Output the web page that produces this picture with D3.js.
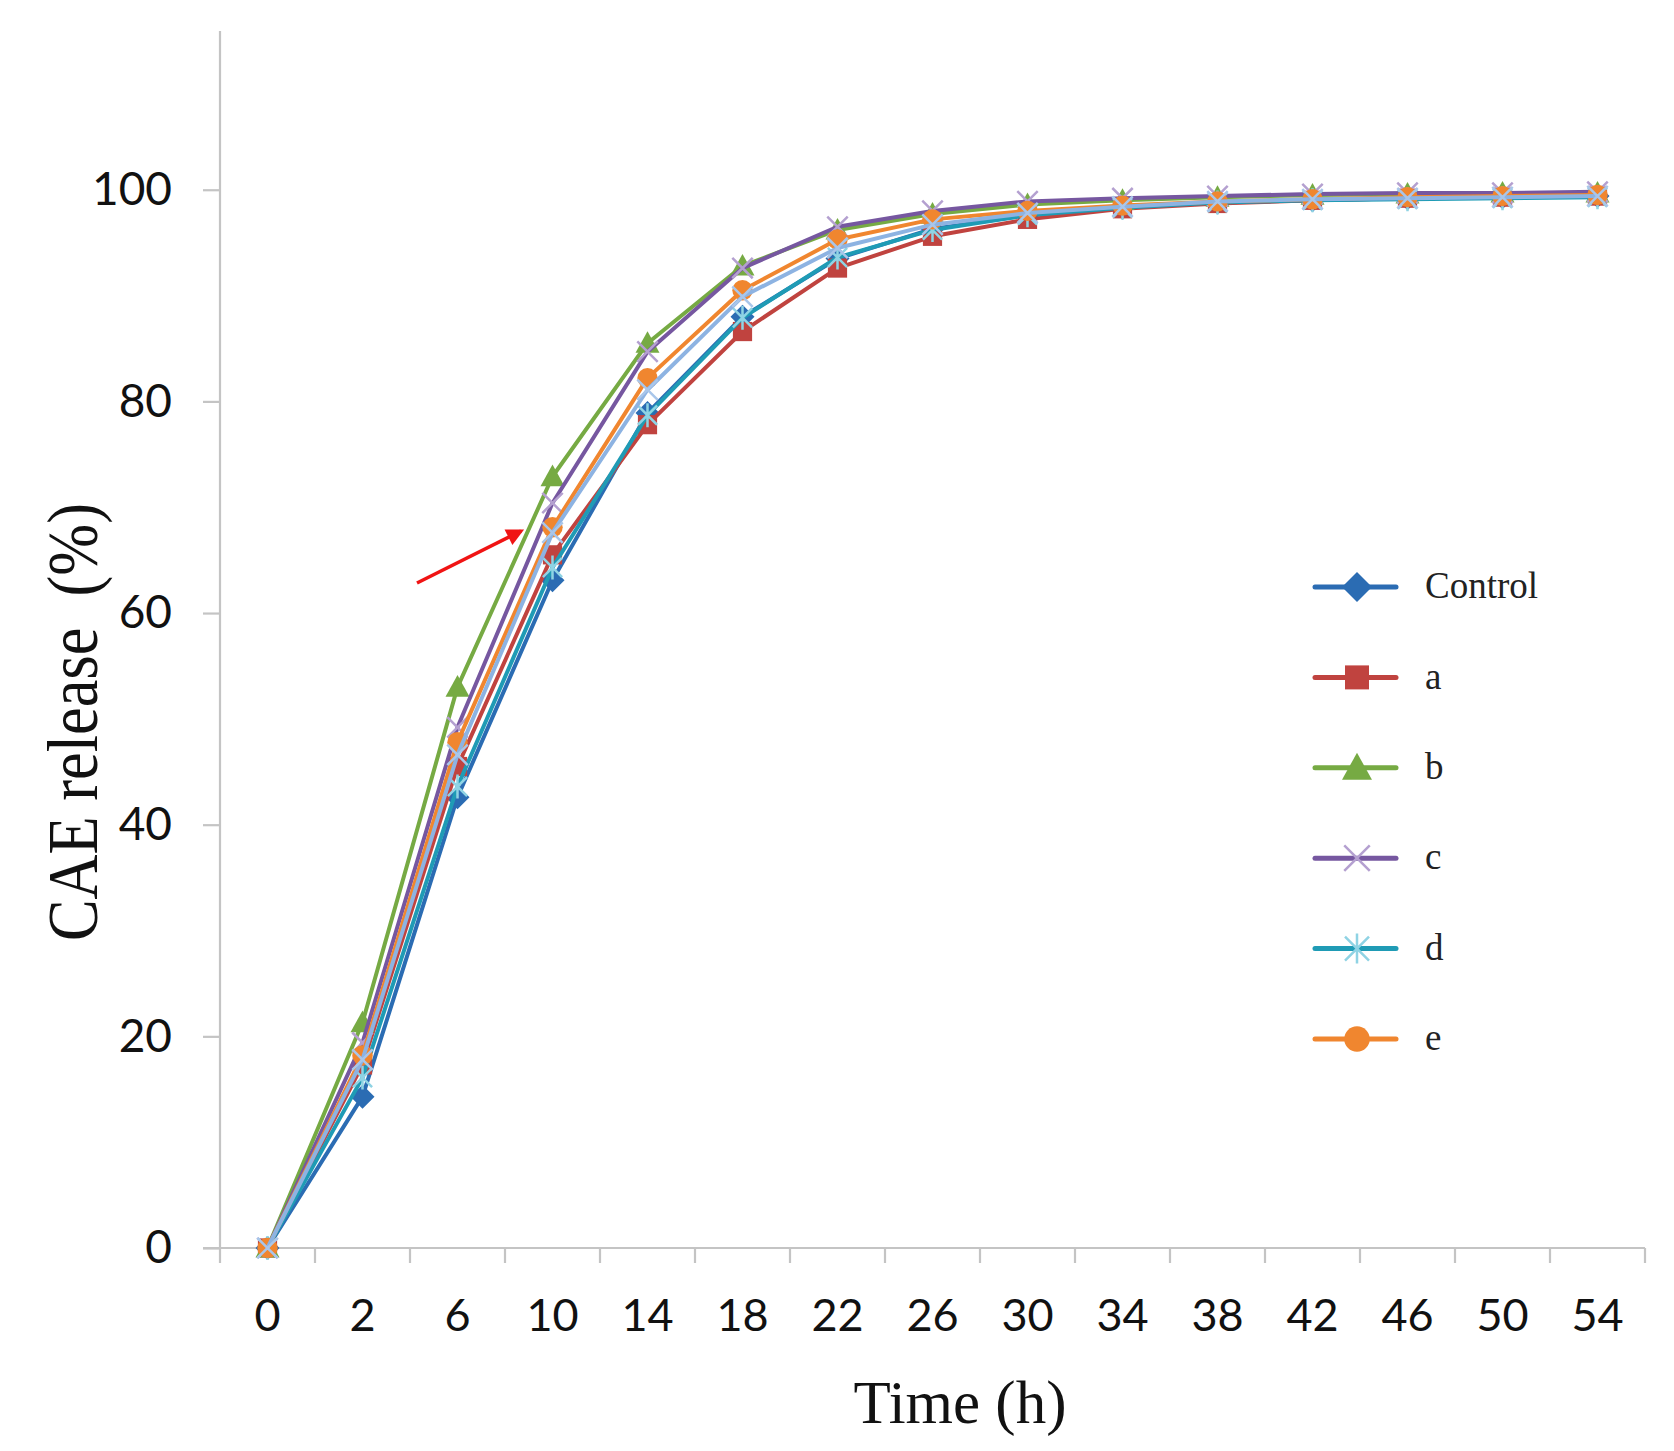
<!DOCTYPE html>
<html>
<head>
  <meta charset="utf-8">
  <title>CAE release</title>
  <style>
    body { margin: 0; background: #fff; }
    svg { display: block; }
  </style>
</head>
<body>

  <script src="https://cdn.jsdelivr.net/npm/d3@7"></script>
  <script type="text/javascript">

  // sampling times (h), shown as categories
  var times = ['0', '2', '6', '10', '14', '18', '22', '26', '30', '34', '38', '42', '46', '50', '54'];

  var control = [0, 14.3, 42.6, 63.1, 78.9, 88.0, 93.5, 96.3, 97.6, 98.3, 98.8, 99.0, 99.2, 99.3, 99.4];
  var serA    = [0, 17.3, 45.5, 65.5, 77.8, 86.6, 92.6, 95.6, 97.2, 98.2, 98.7, 99.0, 99.2, 99.3, 99.4];
  var serB    = [0, 21.3, 53.0, 72.9, 85.5, 92.8, 96.2, 97.7, 98.6, 99.0, 99.3, 99.5, 99.6, 99.7, 99.7];
  var serC    = [0, 19.4, 49.2, 70.4, 84.7, 92.6, 96.5, 98.0, 98.9, 99.2, 99.4, 99.6, 99.7, 99.7, 99.8];
  var serD    = [0, 16.1, 43.6, 64.3, 78.7, 87.9, 93.6, 96.2, 97.6, 98.3, 98.8, 99.0, 99.1, 99.2, 99.3];
  var serE    = [0, 18.2, 47.8, 68.1, 82.2, 90.5, 95.3, 97.2, 98.0, 98.5, 98.9, 99.1, 99.3, 99.4, 99.5];
  // extra light blue series drawn in the plot, not listed in the legend
  var serF    = [0, 17.8, 46.6, 67.6, 81.1, 89.9, 94.5, 96.7, 97.8, 98.4, 98.9, 99.1, 99.2, 99.3, 99.4];

  var yTicks = [0, 20, 40, 60, 80, 100];

  var series = [
    { name: 'Control', values: control, color: '#2b6cb3', mark: 'diamond', mcolor: '#2b6cb3', legend: true },
    { name: 'a',       values: serA,    color: '#c0433f', mark: 'square',  mcolor: '#c0433f', legend: true },
    { name: 'b',       values: serB,    color: '#76aa43', mark: 'triangle', mcolor: '#76aa43', legend: true },
    { name: 'c',       values: serC,    color: '#7657a0', mark: 'cross',   mcolor: '#b4a0d0', legend: true },
    { name: 'd',       values: serD,    color: '#1f9bb5', mark: 'star',    mcolor: '#8fd3e4', legend: true },
    { name: 'e',       values: serE,    color: '#f0862f', mark: 'circle',  mcolor: '#f0862f', legend: true },
    { name: 'f',       values: serF,    color: '#8db3e2', mark: 'cross',   mcolor: '#a9c6ea', legend: false }
  ];

  var W = 1674, H = 1451,
      pL = 220, pR = 1645, pT = 31, pB = 1248;

  var svg = d3.select('body').append('svg')
      .attr('width', W)
      .attr('height', H);

  var x = d3.scaleBand().domain(times).range([pL, pR]).padding(0),
      y = d3.scaleLinear().domain([0, 115]).range([pB, pT]),
      cx = function(i){ return x(times[i]) + x.bandwidth() / 2; };

  var axisColor = '#c4c4c4';

  // y axis
  var yAxis = svg.append('g')
      .attr('transform', 'translate(' + pL + ',0)')
      .call(d3.axisLeft(y).tickValues(yTicks).tickSize(17).tickPadding(31));
  yAxis.select('.domain').attr('stroke', axisColor).attr('stroke-width', 2.2)
      .attr('d', 'M0,' + (pB + 15) + 'V' + pT);
  yAxis.selectAll('.tick line').attr('stroke', axisColor).attr('stroke-width', 2.2);
  yAxis.selectAll('.tick text')
      .attr('font-family', 'Lato, "Open Sans", sans-serif')
      .attr('font-size', 46)
      .attr('fill', '#111');

  // x axis: labels under each category, ticks on category boundaries
  var xAxis = svg.append('g')
      .attr('transform', 'translate(0,' + pB + ')')
      .call(d3.axisBottom(x).tickSize(0).tickPadding(51));
  xAxis.select('.domain').attr('stroke', axisColor).attr('stroke-width', 2.2)
      .attr('d', 'M' + (pL - 17) + ',0H' + pR);
  xAxis.selectAll('.tick text')
      .attr('font-family', 'Lato, "Open Sans", sans-serif')
      .attr('font-size', 45)
      .attr('fill', '#111');
  xAxis.selectAll('line.bound')
      .data(times)
      .enter().append('line')
      .attr('class', 'bound')
      .attr('x1', function(d){ return x(d) + x.bandwidth(); })
      .attr('x2', function(d){ return x(d) + x.bandwidth(); })
      .attr('y1', 0).attr('y2', 15)
      .attr('stroke', axisColor).attr('stroke-width', 2.2);

  // axis titles
  svg.append('text')
      .attr('x', 960).attr('y', 1423)
      .attr('text-anchor', 'middle')
      .attr('font-family', '"Liberation Serif", "Times New Roman", serif')
      .attr('font-size', 61)
      .attr('fill', '#111')
      .text('Time (h)');

  svg.append('text')
      .attr('transform', 'translate(97,722) rotate(-90)')
      .attr('text-anchor', 'middle')
      .attr('font-family', '"Liberation Serif", "Times New Roman", serif')
      .attr('font-size', 71)
      .attr('textLength', 438)
      .attr('lengthAdjust', 'spacingAndGlyphs')
      .style('white-space', 'pre')
      .attr('fill', '#111')
      .text('CAE release  (%)');

  // markers
  function marker(g, kind, color, s){
    var k;
    if (kind === 'diamond') {
      g.append('path').attr('d', 'M0,' + (-s) + 'L' + s + ',0L0,' + s + 'L' + (-s) + ',0Z').attr('fill', color);
    } else if (kind === 'square') {
      g.append('rect').attr('x', -s * 0.8).attr('y', -s * 0.8).attr('width', s * 1.6).attr('height', s * 1.6).attr('fill', color);
    } else if (kind === 'triangle') {
      g.append('path').attr('d', 'M0,' + (-s) + 'L' + s + ',' + (s * 0.8) + 'L' + (-s) + ',' + (s * 0.8) + 'Z').attr('fill', color);
    } else if (kind === 'circle') {
      g.append('circle').attr('r', s * 0.85).attr('fill', color);
    } else if (kind === 'cross') {
      k = s * 0.85;
      g.append('path').attr('d', 'M' + (-k) + ',' + (-k) + 'L' + k + ',' + k + 'M' + (-k) + ',' + k + 'L' + k + ',' + (-k))
        .attr('stroke', color).attr('stroke-width', 2.5).attr('fill', 'none');
    } else if (kind === 'star') {
      k = s * 0.8;
      g.append('path').attr('d', 'M' + (-k) + ',' + (-k) + 'L' + k + ',' + k + 'M' + (-k) + ',' + k + 'L' + k + ',' + (-k) + 'M0,' + (-s) + 'L0,' + s)
        .attr('stroke', color).attr('stroke-width', 2.5).attr('fill', 'none');
    }
  }

  var line = d3.line()
      .x(function(d, i){ return cx(i); })
      .y(function(d){ return y(d); });

  series.forEach(function(s){
    var g = svg.append('g');
    g.append('path')
      .attr('d', line(s.values))
      .attr('fill', 'none')
      .attr('stroke', s.color)
      .attr('stroke-width', 4)
      .attr('stroke-linejoin', 'round');
    s.values.forEach(function(v, i){
      marker(g.append('g').attr('transform', 'translate(' + cx(i) + ',' + y(v) + ')'), s.mark, s.mcolor, 12);
    });
  });

  // legend
  var leg = svg.append('g'),
      legRows = series.filter(function(s){ return s.legend; }),
      legY = d3.scalePoint().domain(legRows.map(function(s){ return s.name; })).range([587, 1039]);

  legRows.forEach(function(s){
    var row = leg.append('g').attr('transform', 'translate(0,' + legY(s.name) + ')');
    row.append('line')
      .attr('x1', 1315).attr('x2', 1396)
      .attr('stroke', s.color).attr('stroke-width', 5).attr('stroke-linecap', 'round');
    marker(row.append('g').attr('transform', 'translate(1357,0)'), s.mark, s.mcolor, 15);
    row.append('text')
      .attr('x', 1425).attr('dy', '0.3em')
      .attr('font-family', '"Liberation Serif", "Times New Roman", serif')
      .attr('font-size', 37)
      .attr('fill', '#222')
      .text(s.name);
  });

  // red arrow pointing at curve b
  svg.append('defs').append('marker')
      .attr('id', 'head')
      .attr('viewBox', '0 0 10 10')
      .attr('refX', 8).attr('refY', 5)
      .attr('markerWidth', 6).attr('markerHeight', 5)
      .attr('orient', 'auto')
      .append('path').attr('d', 'M0,0L10,5L0,10Z').attr('fill', '#f01414');

  svg.append('line')
      .attr('x1', 417).attr('y1', 583)
      .attr('x2', 521).attr('y2', 531)
      .attr('stroke', '#f01414')
      .attr('stroke-width', 3.5)
      .attr('marker-end', 'url(#head)');

  </script>
</body>
</html>
